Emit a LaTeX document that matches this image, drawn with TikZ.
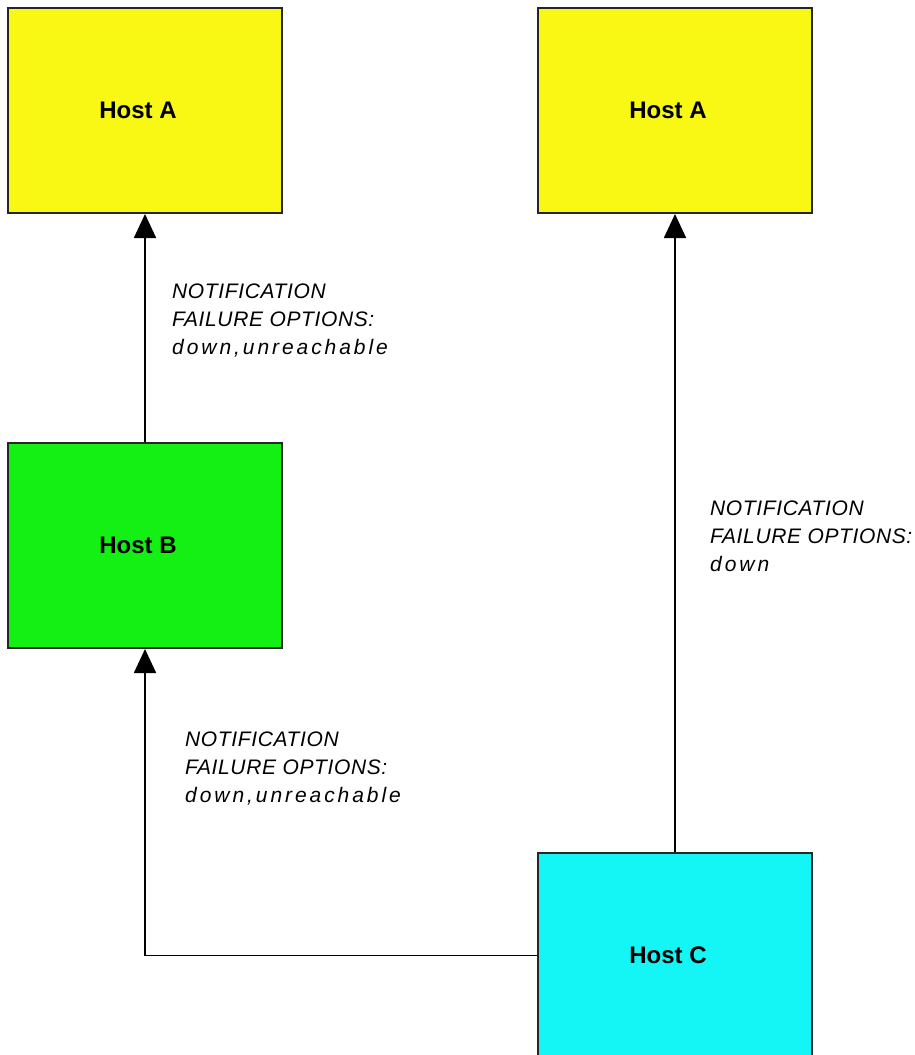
\documentclass[tikz,border=0pt]{standalone}
\usepackage{fontspec}
\setmainfont{Liberation Sans}
\usetikzlibrary{arrows.meta}
\definecolor{hostyellow}{RGB}{248,248,20}
\definecolor{hostgreen}{RGB}{20,240,20}
\definecolor{hostcyan}{RGB}{20,245,245}
\newcommand{\capsp}[1]{{\addfontfeature{LetterSpace=3}#1}}
\newcommand{\lowsp}[1]{{\addfontfeature{LetterSpace=14}#1}}
\newcommand{\hosttext}[1]{\hspace*{-14pt}#1}
\begin{document}
\begin{tikzpicture}[x=1pt,y=-1pt,
 host/.style={draw=black!85,line width=2pt,minimum width=274pt,minimum height=205pt,inner sep=0pt,font=\fontsize{24}{28}\selectfont\bfseries},
 lbl/.style={anchor=north west,inner sep=0pt,align=left,font=\fontsize{21}{28}\selectfont\itshape},
 conn/.style={line width=1.8pt,-{Triangle[length=24pt,width=22pt]}}]
\useasboundingbox (0,0) rectangle (914,1055);
\fill[white] (0,0) rectangle (914,1055);
\node[host,fill=hostyellow] (a1) at (145,110.5) {\hosttext{Host A}};
\node[host,fill=hostyellow] (a2) at (675,110.5) {\hosttext{Host A}};
\node[host,fill=hostgreen] (b) at (145,545.5) {\hosttext{Host B}};
\node[host,fill=hostcyan] (c) at (675,955.5) {\hosttext{Host C}};
\draw[conn] (b.north) -- (a1.south);
\draw[conn] (c.north) -- (a2.south);
\draw[conn] (c.west) -| (b.south);
\node[lbl] (l1) at (172,284) {\capsp{NOTIFICATION}\\\capsp{FAILURE OPTIONS:}\\\lowsp{down,unreachable}};
\node[lbl] (l2) at (185,732) {\capsp{NOTIFICATION}\\\capsp{FAILURE OPTIONS:}\\\lowsp{down,unreachable}};
\node[lbl] (l3) at (710,501) {\capsp{NOTIFICATION}\\\capsp{FAILURE OPTIONS:}\\\lowsp{down}};
\end{tikzpicture}
\end{document}
